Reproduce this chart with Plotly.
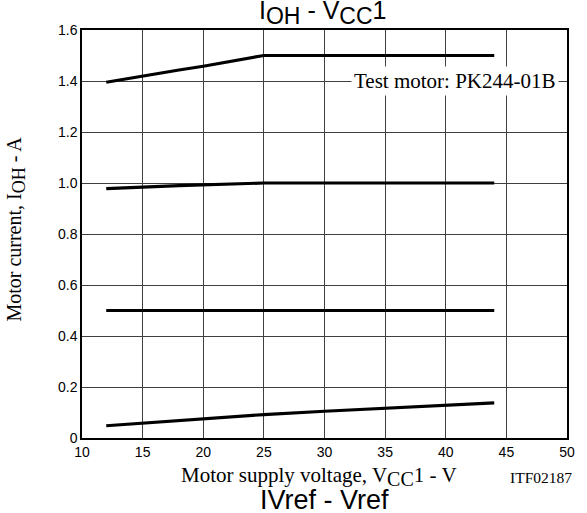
import plotly.graph_objects as go

# Data
x_15 = [12, 15, 18, 20, 22, 24, 25, 44]
y_15 = [1.395, 1.42, 1.443, 1.458, 1.475, 1.492, 1.5, 1.5]
x_10 = [12, 18, 25, 44]
y_10 = [0.978, 0.99, 1.0, 1.0]
x_05 = [12, 44]
y_05 = [0.5, 0.5]
x_01 = [12, 20, 25, 30, 35, 40, 44]
y_01 = [0.048, 0.075, 0.092, 0.105, 0.117, 0.128, 0.138]

x_ticks = [10, 15, 20, 25, 30, 35, 40, 45, 50]
y_ticks = [0, 0.2, 0.4, 0.6, 0.8, 1.0, 1.2, 1.4, 1.6]
y_tick_text = ["0", "0.2", "0.4", "0.6", "0.8", "1.0", "1.2", "1.4", "1.6"]

SERIF = "Liberation Serif, Times New Roman, serif"
SANS = "Liberation Sans, Arial, sans-serif"

fig = go.Figure()
for xs, ys in [(x_15, y_15), (x_10, y_10), (x_05, y_05), (x_01, y_01)]:
    fig.add_trace(go.Scatter(x=xs, y=ys, mode="lines",
                             line=dict(color="black", width=3.2),
                             showlegend=False, hoverinfo="skip"))

fig.update_layout(
    width=587, height=513,
    margin=dict(l=82, r=14, t=30, b=75),
    paper_bgcolor="white", plot_bgcolor="white",
    showlegend=False,
    font=dict(family=SANS, size=14, color="black"),
)
fig.update_xaxes(range=[10, 50], tickvals=x_ticks, ticktext=[str(v) for v in x_ticks],
                 showgrid=True, gridcolor="#404040", gridwidth=1,
                 showline=True, linecolor="black", linewidth=1.5, mirror=True,
                 zeroline=False, ticks="", tickfont=dict(family=SANS, size=14, color="black"))
fig.update_yaxes(range=[0, 1.6], tickvals=y_ticks, ticktext=y_tick_text,
                 showgrid=True, gridcolor="#404040", gridwidth=1,
                 showline=True, linecolor="black", linewidth=1.5, mirror=True,
                 zeroline=False, ticks="", tickfont=dict(family=SANS, size=14, color="black"))

sub = lambda t, s: f"<sub><span style='font-size:{s}px'>{t}</span></sub>"

fig.add_annotation(xref="paper", yref="paper", x=0.497, y=1.043, showarrow=False,
                   text="I" + sub("OH", 23) + " - V" + sub("CC", 23) + "1",
                   font=dict(family=SANS, size=25, color="black"),
                   xanchor="center", yanchor="middle")
fig.add_annotation(xref="paper", yref="paper", x=0.5, y=-0.152, showarrow=False,
                   text="IVref - Vref",
                   font=dict(family=SANS, size=27, color="black"),
                   xanchor="center", yanchor="middle")
fig.add_annotation(xref="paper", yref="paper", x=0.488, y=-0.095, showarrow=False,
                   text="Motor supply voltage, V" + sub("CC", 20) + "1 - V",
                   font=dict(family=SERIF, size=21, color="black"),
                   xanchor="center", yanchor="middle")
fig.add_annotation(xref="paper", yref="paper", x=0.946, y=-0.097, showarrow=False,
                   text="ITF02187",
                   font=dict(family=SERIF, size=15.5, color="black"),
                   xanchor="center", yanchor="middle")
fig.add_annotation(xref="paper", yref="paper", x=-0.138, y=0.511, showarrow=False,
                   text="Motor current, I" + sub("OH", 18) + " - A", textangle=-90,
                   font=dict(family=SERIF, size=20, color="black"),
                   xanchor="center", yanchor="middle")
fig.add_annotation(xref="x", yref="y", x=40.75, y=1.4, showarrow=False,
                   text="Test motor: PK244-01B", bgcolor="white", borderpad=2,
                   font=dict(family=SERIF, size=21, color="black"),
                   xanchor="center", yanchor="middle")

fig.write_html("out.html", config={"displayModeBar": False},
               post_script="document.body.style.margin='0';document.body.style.overflow='hidden';")
